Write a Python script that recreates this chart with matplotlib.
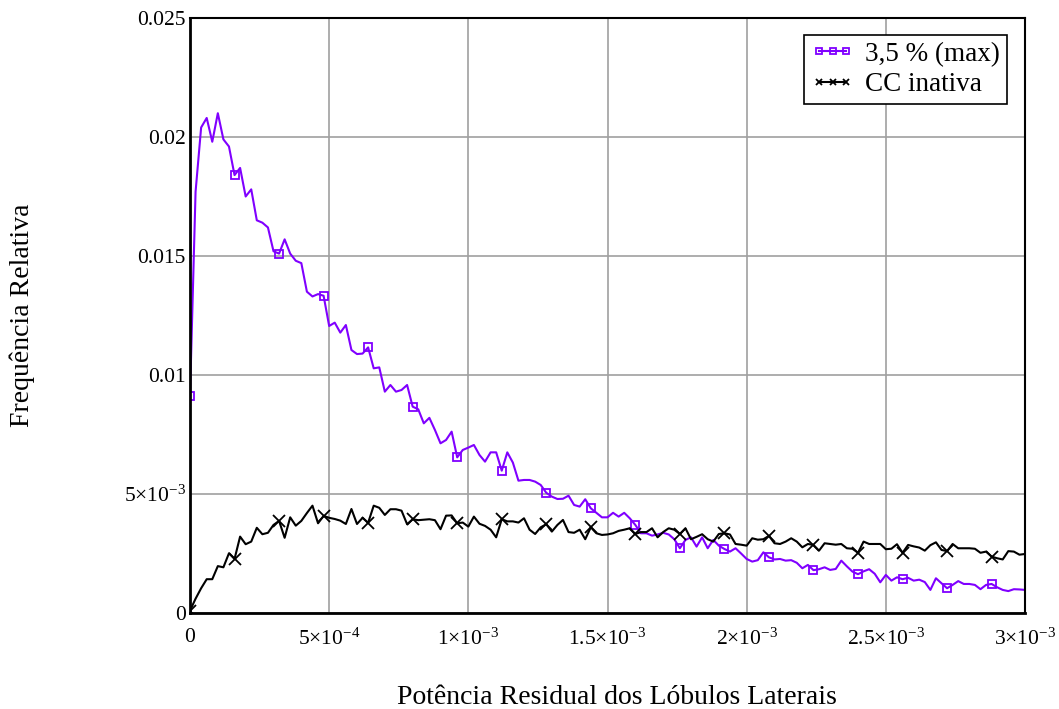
import numpy as np
import matplotlib
matplotlib.use("Agg")
import matplotlib.pyplot as plt

plt.rcParams['font.family'] = ['Liberation Serif', 'DejaVu Serif']
plt.rcParams['mathtext.fontset'] = 'custom'
plt.rcParams['mathtext.rm'] = 'Liberation Serif'
plt.rcParams['mathtext.it'] = 'Liberation Serif:italic'
plt.rcParams['mathtext.bf'] = 'Liberation Serif:bold'

step = 2e-5
n_points = 151

cc_max = [
    0.0091, 0.0177, 0.0204, 0.0208, 0.0198, 0.0210, 0.0199, 0.0196, 0.0184, 0.0187,
    0.0175, 0.0178, 0.0165, 0.0164, 0.0162, 0.0152, 0.0151, 0.0157, 0.0151, 0.0148,
    0.0147, 0.0135, 0.0133, 0.0134, 0.01333, 0.01206, 0.0122, 0.01178, 0.0121, 0.01105,
    0.01088, 0.0109, 0.01116, 0.01028, 0.01032, 0.0093, 0.00958, 0.0093, 0.00937, 0.00958,
    0.00867, 0.00856, 0.00797, 0.0082, 0.00769, 0.00713, 0.00727, 0.00762, 0.00654, 0.00685,
    0.00695, 0.00706, 0.00664, 0.00636, 0.00675, 0.00675, 0.00598, 0.00675, 0.00632, 0.00556,
    0.00559, 0.00559, 0.00552, 0.00538, 0.00505, 0.00489, 0.00479, 0.00480, 0.00493, 0.00454,
    0.00447, 0.00478, 0.0044, 0.00421, 0.00402, 0.00402, 0.00421, 0.00405, 0.00421, 0.00398,
    0.0037, 0.00335, 0.00335, 0.00325, 0.0033, 0.00337, 0.0033, 0.0031, 0.00272, 0.00307,
    0.00318, 0.00279, 0.00318, 0.00272, 0.00307, 0.00283, 0.00269, 0.00258, 0.00272, 0.0025,
    0.00227, 0.00216, 0.00222, 0.00255, 0.00234, 0.00225, 0.00227, 0.0022, 0.00222, 0.00211,
    0.00188, 0.00202, 0.0018, 0.00184, 0.00192, 0.00181, 0.00185, 0.0022, 0.00196, 0.00174,
    0.00163, 0.00175, 0.00184, 0.00165, 0.00129, 0.0016, 0.00136, 0.0015, 0.00142, 0.00148,
    0.00136, 0.0014, 0.0013, 0.00097, 0.00146, 0.00125, 0.00104, 0.00118, 0.00134, 0.00122,
    0.00122, 0.00118, 0.001, 0.00118, 0.00122, 0.00108, 0.00097, 0.00092, 0.001, 0.00099,
    0.00097,
]

cc_off = [
    0.0001, 0.0006, 0.00104, 0.00142, 0.00142, 0.00197, 0.00192, 0.00251, 0.00227, 0.00321,
    0.00289, 0.003, 0.00358, 0.00331, 0.00337, 0.0037, 0.00387, 0.00316, 0.00402, 0.00367,
    0.00387, 0.0042, 0.00451, 0.00377, 0.00408, 0.004, 0.00395, 0.00388, 0.00374, 0.00437,
    0.00374, 0.004, 0.00379, 0.00451, 0.00442, 0.00412, 0.00436, 0.00436, 0.0043, 0.00373,
    0.00394, 0.0039, 0.00392, 0.00394, 0.0039, 0.00352, 0.00409, 0.0041, 0.00377, 0.0038,
    0.00363, 0.00405, 0.00375, 0.00366, 0.0035, 0.00318, 0.00394, 0.00385, 0.00385, 0.0038,
    0.00398, 0.0035, 0.00332, 0.0036, 0.00373, 0.00342, 0.0037, 0.00391, 0.0034, 0.00337,
    0.0035, 0.0031, 0.0036, 0.00335, 0.00328, 0.0033, 0.00335, 0.00345, 0.0035, 0.00356,
    0.00332, 0.0034, 0.0034, 0.00356, 0.00318, 0.0034, 0.00356, 0.0035, 0.00332, 0.00356,
    0.0031, 0.0032, 0.00331, 0.0031, 0.003, 0.00332, 0.00335, 0.0033, 0.0029, 0.00287,
    0.00283, 0.00314, 0.00308, 0.0031, 0.00324, 0.00293, 0.0029, 0.003, 0.00314, 0.003,
    0.00276, 0.0029, 0.00286, 0.00262, 0.00293, 0.0029, 0.00287, 0.0029, 0.00272, 0.0027,
    0.00253, 0.003, 0.0029, 0.0029, 0.0029, 0.00268, 0.0027, 0.00289, 0.00253, 0.00286,
    0.0028, 0.00275, 0.00262, 0.00285, 0.00297, 0.00265, 0.0026, 0.0029, 0.00272, 0.00272,
    0.00272, 0.0027, 0.00253, 0.00258, 0.00237, 0.0023, 0.00225, 0.0026, 0.00258, 0.00245,
    0.00248,
]

x = np.arange(n_points) * step

xticks = [0, 5e-4, 1e-3, 1.5e-3, 2e-3, 2.5e-3, 3e-3]
xticklabels = ['0', r'$5{\times}10^{-4}$', r'$1{\times}10^{-3}$', r'$1.5{\times}10^{-3}$',
               r'$2{\times}10^{-3}$', r'$2.5{\times}10^{-3}$', r'$3{\times}10^{-3}$']
yticks = [0, 0.005, 0.01, 0.015, 0.02, 0.025]
yticklabels = ['0', r'$5{\times}10^{-3}$', '0.01', '0.015', '0.02', '0.025']

series_labels = ['3,5 % (max)', 'CC inativa']

fig = plt.figure(figsize=(10.59, 7.09), dpi=100)
ax = fig.add_axes([190/1059, 1 - 613/709, 835/1059, 595/709])

ax.plot(x, cc_max, color='#8000ff', lw=1.5, marker='s', ms=6, mfc='none',
        mec='#8000ff', mew=1.3, markevery=8, label=series_labels[0])
ax.plot(x, cc_off, color='black', lw=1.5, marker='x', ms=9, mew=1.3,
        markevery=8, label=series_labels[1])

ax.set_xlim(0, 3e-3)
ax.set_ylim(0, 0.025)
ax.set_xticks(xticks)
ax.set_xticklabels(xticklabels)
ax.set_yticks(yticks)
ax.set_yticklabels(yticklabels)
ax.tick_params(axis='both', length=0, labelsize=15.5)
ax.tick_params(axis='x', pad=11)
ax.tick_params(axis='y', pad=3)
ax.grid(True, color='#a0a0a0', lw=1.2)
ax.set_axisbelow(True)
for s in ax.spines.values():
    s.set_color('black')
    s.set_linewidth(1.5)
ax.spines['left'].set_linewidth(2)
ax.spines['bottom'].set_linewidth(2)

fig.text(617/1059, 1 - 697/709, 'Potência Residual dos Lóbulos Laterais', fontsize=20,
         ha='center', va='center')
fig.text(22/1059, 1 - 315/709, 'Frequência Relativa', rotation=90, fontsize=20,
         ha='center', va='center')

leg = ax.legend(loc='upper right', bbox_to_anchor=(1007/1059, 1 - 35/709),
                bbox_transform=fig.transFigure, fontsize=19.5, numpoints=3,
                handlelength=1.6, handletextpad=0.4, borderpad=0.25,
                labelspacing=0.2, borderaxespad=0, fancybox=False, framealpha=1,
                edgecolor='black')
leg.get_frame().set_linewidth(1.2)
for h in leg.legend_handles:
    h.set_markersize(5)

fig.savefig('out.png', dpi=100)
